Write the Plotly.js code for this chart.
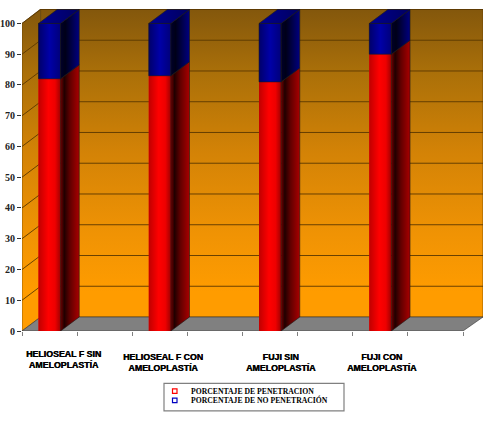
<!DOCTYPE html>
<html><head><meta charset="utf-8">
<script src="https://cdn.plot.ly/plotly-3.0.1.min.js"></script>
<style>html,body{margin:0;padding:0;background:#fff}#c{width:500px;height:423px}</style>
</head><body><div id="c"></div>
<script>
const categories = ["HELIOSEAL F SIN<br>AMELOPLASTÍA","HELIOSEAL F CON<br>AMELOPLASTÍA","FUJI SIN<br>AMELOPLASTÍA","FUJI CON<br>AMELOPLASTÍA"];
const penetracion = [82, 83, 81, 90];
const noPenetracion = [18, 17, 19, 10];
const seriesNames = ["PORCENTAJE DE PENETRACION","PORCENTAJE DE NO PENETRACIÓN"];
const seriesColors = ["#ff0000","#0000c0"];
const yTicks = [0,10,20,30,40,50,60,70,80,90,100];
const xTicks = [0,0.5,1,1.5,2,2.5,3,3.5,4];

const DX=0.169, DY=4.55, BW=0.2, XMAX=4.181, YMAX=104.7;
const barX = categories.map((_,i)=>i+0.25);
const labelPx = [[63,354],[163,357],[281,357],[382,357]];
const wallScale=[[0,'#ff9c00'],[0.12,'#ff9c00'],[0.3,'#f09304'],[0.55,'#d48306'],[0.8,'#ab7009'],[1,'#83570c']];
const traces=[];
function poly(xs,ys,opt){
  traces.push(Object.assign({type:'scatter',mode:'lines',x:[...xs,xs[0]],y:[...ys,ys[0]],fill:'toself',
    line:{width:opt.lw===undefined?0.6:opt.lw,color:opt.lc||'#1a1a1a'},showlegend:false,hoverinfo:'skip'},opt.t||{}));
}
function grad(type,scale,start,stop){return {fillcolor:'rgba(0,0,0,0)',fillgradient:{type:type,colorscale:scale,start:start,stop:stop}};}
poly([0,DX,DX,0],[0,DY,YMAX,100],{lc:'#5a3a00',t:grad('vertical',wallScale,0,YMAX)});
poly([DX,XMAX,XMAX,DX],[DY,DY,YMAX,YMAX],{lc:'#5a3a00',t:grad('vertical',wallScale,0,YMAX)});
poly([0,4,XMAX,DX],[0,0,DY,DY],{lc:'#333',t:{fillcolor:'#808080'}});
yTicks.forEach(v=>{ if(v===0) return;
  traces.push({type:'scatter',mode:'lines',x:[0,DX,XMAX],y:[v,v+DY,v+DY],line:{color:'#5a3800',width:0.9},showlegend:false,hoverinfo:'skip'});
});
traces.push({type:'bar',xaxis:'x2',yaxis:'y2',x:barX,y:penetracion,width:BW,marker:{color:seriesColors[0]},name:seriesNames[0],showlegend:false,hoverinfo:'skip'});
traces.push({type:'bar',xaxis:'x2',yaxis:'y2',x:barX,y:noPenetracion,base:penetracion,width:BW,marker:{color:seriesColors[1]},name:seriesNames[1],showlegend:false,hoverinfo:'skip'});
const redF=[[0,'#c00000'],[0.45,'#ff0000'],[0.75,'#ee0000'],[1,'#a00000']];
const redS=[[0,'#700000'],[0.2,'#200000'],[0.5,'#600000'],[1,'#a80000']];
const bluF=[[0,'#00006a'],[0.5,'#0000a8'],[1,'#00007a']];
const bluS=[[0,'#00002a'],[0.25,'#000018'],[1,'#000080']];
categories.forEach((_,i)=>{
  const l=barX[i]-BW/2,r=barX[i]+BW/2,p=penetracion[i],t=p+noPenetracion[i];
  const ov={xaxis:'x2',yaxis:'y2'};
  const mk=(xs,ys,g,extra)=>poly(xs,ys,Object.assign({t:Object.assign({},g,ov)},extra||{}));
  mk([l,r,r,l],[0,0,p,p],grad('horizontal',redF,l,r),{lw:0});
  mk([r,r+DX,r+DX,r],[0,DY,p+DY,p],grad('horizontal',redS,r,r+DX));
  mk([l,r,r,l],[p,p,t,t],grad('horizontal',bluF,l,r));
  mk([r,r+DX,r+DX,r],[p,p+DY,t+DY,t],grad('horizontal',bluS,r,r+DX));
  mk([l,r,r+DX,l+DX],[t,t,t+DY,t+DY],grad('horizontal',[[0,'#000090'],[1,'#000060']],l,r+DX));
});

const H=423,W=500,ML=22,MR=17,MT=9,MB=91.5;
const pw=W-ML-MR, ph=H-MT-MB;
const px=x=>(x-ML)/pw, py=y=>(H-MB-y)/ph;
const annotations=categories.map((c,i)=>({text:c,xref:'paper',yref:'paper',
  x:px(labelPx[i][0]),y:py(labelPx[i][1]-6),xanchor:'center',yanchor:'top',showarrow:false,
  font:{family:'Liberation Sans',size:8.8,color:'#000',weight:700,shadow:'0.4px 0 0 #000'}}));
const legendRows=[391.7,401];
const shapes=[
  {type:'rect',xref:'paper',yref:'paper',x0:px(164),x1:px(344),y0:py(384),y1:py(411.5),fillcolor:'#fff',line:{color:'#808080',width:1.2}}
];
seriesNames.forEach((n,i)=>{
  shapes.push({type:'rect',xref:'paper',yref:'paper',x0:px(172.5),x1:px(177),y0:py(legendRows[i]-2.2),y1:py(legendRows[i]+2.2),fillcolor:'#fff',line:{color:seriesColors[i],width:1.2}});
  annotations.push({text:n,xref:'paper',yref:'paper',x:px(188.5),y:py(legendRows[i]),xanchor:'left',yanchor:'middle',showarrow:false,
    font:{family:'Liberation Serif',size:7.7,color:'#000',weight:700}});
});
const layout={width:W,height:H,margin:{l:ML,r:MR,t:MT,b:MB,pad:0},paper_bgcolor:'#fff',plot_bgcolor:'rgba(0,0,0,0)',
  barmode:'overlay',showlegend:false,shapes:shapes,
  xaxis:{range:[0,XMAX],tickmode:'array',tickvals:xTicks,ticktext:xTicks.map(()=>''),ticks:'outside',ticklen:4,tickcolor:'#808080',showgrid:false,zeroline:false,showline:false,fixedrange:true,automargin:false},
  yaxis:{range:[0,YMAX],tickmode:'array',tickvals:yTicks,ticks:'outside',ticklen:4,tickcolor:'#333',showgrid:false,zeroline:false,showline:false,
    tickfont:{family:'Liberation Serif',size:10,color:'#222',weight:700},fixedrange:true,automargin:false},
  xaxis2:{range:[0,XMAX],overlaying:'x',visible:false,fixedrange:true},
  yaxis2:{range:[0,YMAX],overlaying:'y',visible:false,fixedrange:true},
  annotations:annotations};
Plotly.newPlot('c',traces,layout,{displayModeBar:false,staticPlot:true});
</script></body></html>
